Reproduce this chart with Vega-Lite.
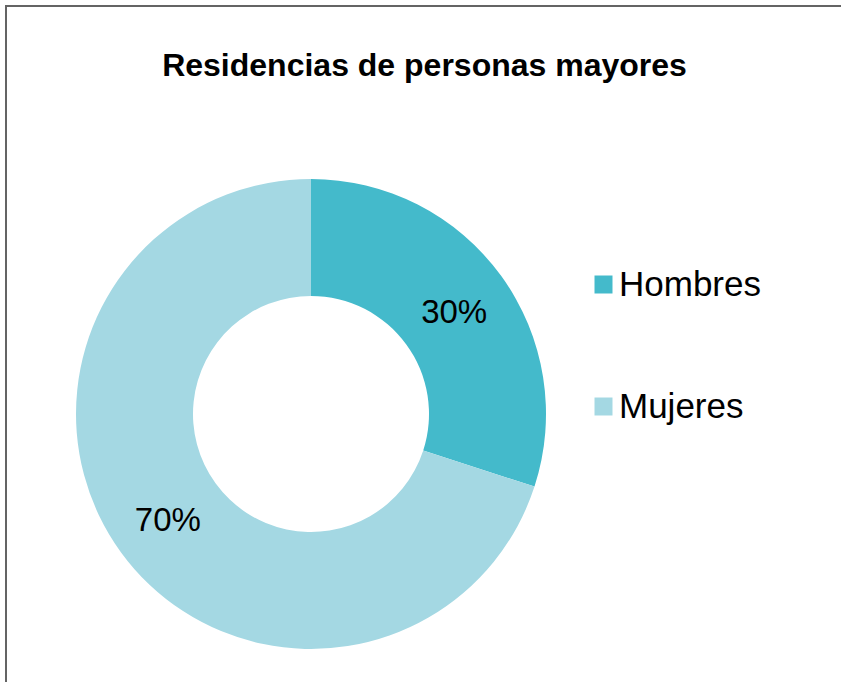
{
  "$schema": "https://vega.github.io/schema/vega-lite/v6.json",
  "autosize": {"type": "none"},
  "width": 837,
  "height": 678,
  "padding": {"left": 6, "top": 6, "right": -2, "bottom": -2},
  "background": "white",
  "view": {"stroke": "#646464", "strokeWidth": 2, "fill": null},
  "data": {"values": [
    {"sexo": "Hombres", "pct": 0.3},
    {"sexo": "Mujeres", "pct": 0.7}
  ]},
  "title": {
    "text": "Residencias de personas mayores",
    "anchor": "middle",
    "frame": "group",
    "orient": "top",
    "offset": -102,
    "baseline": "alphabetic",
    "font": "Liberation Sans",
    "fontSize": 32,
    "fontWeight": "bold",
    "color": "#000000"
  },
  "encoding": {
    "theta": {"field": "pct", "type": "quantitative", "stack": true},
    "color": {
      "field": "sexo",
      "type": "nominal",
      "scale": {"domain": ["Hombres", "Mujeres"], "range": ["#44BACB", "#A4D8E3"]},
      "legend": {
        "title": null,
        "orient": "none",
        "legendX": 580,
        "legendY": 261,
        "symbolType": "square",
        "symbolSize": 324,
        "symbolStrokeWidth": 0,
        "labelFont": "Liberation Sans",
        "labelFontSize": 35,
        "labelColor": "#000000",
        "labelOffset": -2,
        "rowPadding": 86,
        "padding": 0
      }
    }
  },
  "layer": [
    {
      "mark": {"type": "arc", "outerRadius": 235, "innerRadius": 118, "xOffset": -113.5, "yOffset": 69}
    },
    {
      "mark": {"type": "text", "radius": 177, "xOffset": -113.5, "yOffset": 69, "dy": 3, "font": "Liberation Sans", "fontSize": 33, "color": "#000000"},
      "encoding": {
        "text": {"field": "pct", "type": "quantitative", "format": ".0%"},
        "color": {"value": "#000000"}
      }
    }
  ]
}
